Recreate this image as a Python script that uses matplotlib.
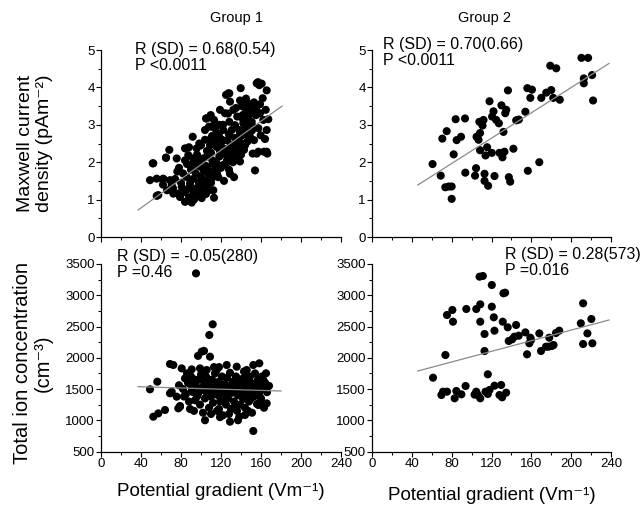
import matplotlib
matplotlib.use("Agg")
import matplotlib.pyplot as plt
from matplotlib.ticker import MultipleLocator

plt.rcParams['font.family'] = ['Liberation Sans', 'DejaVu Sans']
plt.rcParams['mathtext.default'] = 'regular'

# ---------------- data ----------------
# Group 1 : Maxwell current density vs potential gradient
g1_mc_x = [49, 52.3, 55.7, 57.3, 62.3, 65, 68.3, 69, 70.7, 72.3, 75.7, 76.3, 77.3, 79, 80.7, 84, 84, 85.7,
           87.3, 89, 90.7, 91.7, 92.3, 92.3, 95, 95.7, 97.3, 98.3, 99, 100.7, 102.3, 104, 105, 105.7, 106.3,
           107.3, 108.3, 109.7, 110.7, 111.3, 112.3, 113, 114, 115.7, 116.3, 117.3, 118.3, 119, 120.7, 121.7,
           122.3, 123, 124, 125, 125.7, 126.3, 127.3, 128.3, 129, 129, 129.7, 130.7, 131.7, 132.3, 133, 134,
           135, 135.7, 136.3, 137.3, 138.3, 139, 139.7, 140.7, 141.7, 142.3, 143, 144, 144, 145, 145.7, 146.3,
           147.3, 148.3, 149, 150.7, 151.7, 152.3, 153, 154, 155, 155.7, 157.3, 158.3, 159, 159.7, 160.7, 161.7,
           162.3, 163, 164, 164.7, 165.7, 165.7, 166.3, 167.3,
           95, 98, 100, 103, 105, 108, 110, 112, 115, 117, 119, 121, 124, 126, 128, 130, 132, 134, 136, 138,
           140, 142, 118, 114, 110, 106, 102, 98, 94, 90, 86, 82, 80, 88, 92, 96, 100, 104, 108, 112, 116, 120,
           124, 128, 132, 136, 140, 144, 148, 152, 146, 150, 127, 122, 118, 114, 111, 108, 104, 100, 96, 92, 88,
           84, 78, 74, 72, 66, 62, 84, 88, 93, 105, 113, 155.7, 157, 128.3, 65, 51.7, 61.7, 55.7, 105.7, 157.3,
           165.7, 101, 107, 113, 119, 125, 131, 137, 143, 97, 103, 109, 115, 121, 127, 133, 139,
           141, 145, 149, 153, 147, 151, 155, 159, 143, 139, 135]
g1_mc_y = [1.52, 1.97, 1.56, 1.12, 1.56, 2.12, 2.33, 1.52, 1.38, 1.16, 2.1, 1.75, 1.16, 1.07, 1.34, 2.37, 0.94,
           1.6, 2.19, 1.43, 0.92, 2.68, 1.97, 1.16, 1.69, 2.37, 1.25, 2.5, 1.88, 1.04, 1.52, 2.86, 3.17, 2.15,
           1.34, 1.78, 2.59, 3.26, 2.95, 2.05, 1.25, 3.13, 1.78, 2.41, 2.77, 1.6, 2.15, 3.4, 2.37, 1.92, 2.86,
           1.5, 3.31, 3.8, 2.19, 2.59, 3.84, 3.08, 3.62, 1.69, 2.46, 2.86, 2.1, 3.4, 1.6, 2.99, 2.44, 2.3, 3.22,
           2.64, 2.86, 2.02, 3.98, 2.5, 3.26, 3.04, 2.33, 3.31, 3.62, 2.91, 3.4, 2.55, 3.24, 3.51, 2.68, 3.08,
           2.23, 3.44, 2.59, 1.78, 3.26, 2.23, 2.91, 4.06, 3.31, 2.72, 4.1, 3.71, 3.13, 2.28, 2.62, 3.4, 3.92,
           2.86, 2.23, 3.15,
           1.3, 1.45, 1.6, 1.75, 1.9, 1.65, 1.45, 1.95, 2.0, 1.85, 2.3, 2.55, 2.35, 2.05, 2.75, 2.4, 2.2, 2.65,
           2.1, 2.35, 2.7, 3.15, 2.7, 2.55, 2.25, 2.3, 2.1, 2.0, 1.9, 1.8, 1.95, 1.7, 1.45, 1.3, 1.55, 1.15,
           1.3, 1.4, 1.25, 1.6, 1.7, 1.85, 1.95, 1.8, 2.0, 2.5, 2.2, 2.45, 2.8, 2.95, 3.1, 3.3, 3.3, 3.0, 3.0,
           2.9, 2.7, 2.95, 2.6, 2.45, 2.2, 2.1, 2.4, 2.05, 1.85, 1.55, 1.3, 1.25, 1.4, 1.2, 1.05, 1.0, 1.15,
           1.05, 4.11, 4.14, 3.84, 2.12, 1.97, 1.54, 1.1, 3.17, 2.28, 2.28, 1.35, 1.5, 1.72, 2.18, 1.95, 2.3,
           2.6, 2.75, 2.0, 1.2, 2.45, 1.9, 2.6, 2.2, 2.05, 2.8,
           3.5, 3.7, 3.55, 3.6, 3.0, 2.85, 3.45, 3.55, 2.75, 3.65, 3.45]

# Group 2 : Maxwell current density vs potential gradient
g2_mc_x = [60.8, 69, 70.6, 73.6, 75, 77, 80, 80, 82, 84, 85, 89.4, 93.4, 93.7, 103.5, 104.5, 105, 107,
           107.8, 108.5, 108.5, 111, 112, 113, 113, 114, 115.6, 116.6, 118, 120.3, 120.6, 122, 123, 124.7,
           127.4, 128, 130, 131, 132, 133, 133.8, 134.8, 136.5, 137.4, 138.8, 142, 144.8, 147.5, 154, 156,
           156.5, 159, 160.6, 168, 170, 175, 179, 180, 182, 185, 188.6, 210.3, 212.7, 212.7, 217, 221, 222]
g2_mc_y = [1.95, 1.64, 2.63, 1.33, 2.83, 1.35, 1.35, 1.02, 2.21, 3.15, 2.59, 2.68, 3.17, 1.72, 1.64, 1.84,
           2.68, 2.6, 3.08, 2.78, 2.32, 2.98, 3.13, 1.69, 1.5, 2.18, 2.4, 1.37, 3.63, 2.25, 3.22, 3.36, 1.63,
           3.13, 3.04, 2.25, 3.52, 2.13, 2.81, 2.28, 3.31, 3.4, 3.92, 1.6, 1.48, 2.36, 3.12, 3.14, 3.35, 3.98,
           1.77, 3.72, 3.94, 2.0, 3.72, 3.86, 4.58, 3.93, 3.72, 4.51, 3.67, 4.79, 4.11, 4.24, 4.79, 4.33, 3.65]

# Group 1 : total ion concentration vs potential gradient
g1_ion_x = [95, 111.7, 108.3, 100.7, 97, 103, 109, 56.3, 49, 52.3, 57.3, 64, 69, 72.3, 80.7, 79, 77.3,
            152.3, 129, 138.3, 144, 157.3, 165.7, 158.3, 165, 162.3, 152.3, 145.7, 135.7, 125.7, 115.7, 105.7,
            99, 90.7, 84, 69, 70.7, 75.7, 79,
            82, 85, 87, 88, 90, 92, 93, 95, 96, 98, 99, 100, 102, 103, 104, 105, 106, 107, 108, 109, 110, 111,
            112, 113, 114, 115, 116, 117, 118, 119, 120, 121, 122, 123, 124, 125, 126, 127, 128, 129, 130, 131,
            132, 133, 134, 135, 136, 137, 138, 139, 140, 141, 142, 143, 144, 145, 146, 147, 148, 149, 150, 151,
            152, 153, 154, 155, 156, 157, 158, 159, 160, 161, 162, 163, 164, 166, 168, 86, 90, 94, 97, 101, 104,
            110, 115, 119, 124, 128, 133, 137, 142, 147, 150, 154, 160, 78, 83, 89, 91, 113, 118, 122, 126, 131,
            134, 139, 143, 146, 150, 94, 100, 106, 112, 118]
g1_ion_y = [3350, 2535, 2364, 2097, 2030, 2110, 2017, 1617, 1495, 1057, 1110, 1164, 1900, 1884, 1830, 1228,
            1190, 828, 977, 1057, 1084, 1244, 1270, 1911, 1751, 1644, 1884, 1804, 1857, 1884, 1804, 1804, 1830,
            1814, 1670, 1431, 1457, 1377, 1217,
            1500, 1420, 1600, 1300, 1700, 1450, 1150, 1550, 1380, 1650, 1250, 1480, 1120, 1560, 1350, 1700, 1430,
            1600, 1200, 1520, 1380, 1650, 1280, 1470, 1750, 1560, 1150, 1400, 1620, 1300, 1500, 1700, 1080, 1420,
            1580, 1250, 1680, 1350, 1500, 1760, 1180, 1440, 1620, 1300, 1520, 1700, 1150, 1400, 1580, 1250, 1480,
            1660, 1340, 1780, 1200, 1530, 1420, 1620, 1300, 1700, 1480, 1120, 1580, 1380, 1750, 1500, 1260, 1650,
            1420, 1550, 1350, 1700, 1500, 1200, 1600, 1450, 1550, 1750, 1560, 1320, 1420, 1650, 1000, 1100, 1480,
            1050, 1350, 1100, 1450, 1000, 1580, 1150, 1350, 1420, 1280, 1560, 1380, 1180, 1480, 1850, 1850, 1560,
            1450, 1580, 1230, 1630, 1450, 1700, 1600, 1650, 1730, 1520, 1430, 1180]

# Group 2 : total ion concentration vs potential gradient
g2_ion_x = [61.3, 69.7, 71.3, 73.7, 75.3, 75.3, 80.7, 81.3, 83, 84.7, 89.7, 94, 94.7, 103, 104.7, 104.7,
            106.3, 108, 108.7, 108.7, 108.7, 111.3, 113, 113, 114, 116.3, 116.3, 118, 120.3, 120.3, 122.3, 123,
            123, 128, 129.7, 130.7, 131.3, 132, 133.7, 134.7, 136.3, 137.3, 140.7, 143, 144.7, 147.3, 154,
            155.7, 158, 159, 159.7, 168, 169.7, 174.7, 178, 177.3, 180.7, 182.3, 184.7, 188, 209.7, 212, 212,
            216.3, 220.3, 221.3]
g2_ion_y = [1681, 1404, 1457, 2044, 1457, 2684, 2764, 2577, 1351, 1468, 1415, 1548, 2780, 1410, 2780, 1457,
            1404, 3297, 2855, 2577, 1351, 3308, 2380, 2108, 1457, 1735, 1420, 1484, 2817, 3164, 2647, 2433, 1553,
            1404, 1564, 1367, 2577, 3031, 3041, 1441, 2487, 2268, 2295, 2337, 2524, 2353, 2406, 2055, 2231, 2321,
            2284, 2390, 2108, 2177, 2321, 2177, 2188, 2204, 2396, 2433, 2551, 2871, 2220, 2390, 2620, 2231]

# regression-line end points
fit_g1_mc_x, fit_g1_mc_y = [37, 181], [0.72, 3.5]
fit_g2_mc_x, fit_g2_mc_y = [46, 238], [1.39, 4.64]
fit_g1_ion_x, fit_g1_ion_y = [37, 180], [1537, 1468]
fit_g2_ion_x, fit_g2_ion_y = [46, 238], [1788, 2604]

stats = ["R (SD) = 0.68(0.54)\nP <0.0011", "R (SD) = 0.70(0.66)\nP <0.0011",
         "R (SD) = -0.05(280)\nP =0.46", "R (SD) = 0.28(573)\nP =0.016"]
groups = ["Group 1", "Group 2"]

# ---------------- figure ----------------
W, H = 640, 513
fig = plt.figure(figsize=(W / 100, H / 100), dpi=100)

def box(l, r, t, b):
    return [l / W, 1 - b / H, (r - l) / W, (b - t) / H]

ax_tl = fig.add_axes(box(101, 341, 50, 237))
ax_tr = fig.add_axes(box(372, 611, 50, 237))
ax_bl = fig.add_axes(box(101, 341, 264, 451.5))
ax_br = fig.add_axes(box(372, 611, 264, 451.5))

panels = [
    (ax_tl, g1_mc_x, g1_mc_y, fit_g1_mc_x, fit_g1_mc_y, stats[0], (0.14, 1.045)),
    (ax_tr, g2_mc_x, g2_mc_y, fit_g2_mc_x, fit_g2_mc_y, stats[1], (0.045, 1.07)),
    (ax_bl, g1_ion_x, g1_ion_y, fit_g1_ion_x, fit_g1_ion_y, stats[2], (0.065, 1.08)),
    (ax_br, g2_ion_x, g2_ion_y, fit_g2_ion_x, fit_g2_ion_y, stats[3], (0.555, 1.09)),
]

for i, (ax, x, y, fx, fy, txt, pos) in enumerate(panels):
    ax.scatter(x, y, s=34, color='black', edgecolors='none', zorder=3, clip_on=False)
    ax.plot(fx, fy, color='#8a8a8a', lw=0.9, zorder=4)
    ax.set_xlim(0, 240)
    ax.xaxis.set_major_locator(MultipleLocator(40))
    ax.xaxis.set_minor_locator(MultipleLocator(20))
    if i < 2:
        ax.set_ylim(0, 5)
        ax.yaxis.set_major_locator(MultipleLocator(1))
        ax.yaxis.set_minor_locator(MultipleLocator(0.5))
        ax.tick_params(axis='x', labelbottom=False)
    else:
        ax.set_ylim(500, 3500)
        ax.yaxis.set_major_locator(MultipleLocator(500))
        ax.yaxis.set_minor_locator(MultipleLocator(250))
    for s in ('top', 'right'):
        ax.spines[s].set_visible(False)
    for s in ('left', 'bottom'):
        ax.spines[s].set_linewidth(0.9)
    ax.tick_params(which='major', direction='out', length=3.5, width=0.8, labelsize=9.5, pad=1)
    ax.tick_params(which='minor', direction='out', length=2, width=0.7)
    ax.text(pos[0], pos[1], txt, transform=ax.transAxes, ha='left', va='top',
            fontsize=11.5, linespacing=1.1)

ax_tl.set_ylabel('Maxwell current\ndensity (pAm\u207b\u00b2)', fontsize=14, linespacing=1.15)
ax_tl.yaxis.set_label_coords(-0.2, 0.5)
ax_bl.set_ylabel('Total ion concentration\n(cm\u207b\u00b3)', fontsize=14.5, linespacing=1.15)
ax_bl.yaxis.set_label_coords(-0.2, 0.47)
ax_bl.set_xlabel('Potential gradient (Vm\u207b\u00b9)', fontsize=13.5, labelpad=9.5)
ax_br.set_xlabel('Potential gradient (Vm\u207b\u00b9)', fontsize=13.5, labelpad=12.5)

fig.text(236 / W, 1 - 18 / H, groups[0], ha='center', va='center', fontsize=10.5)
fig.text(485 / W, 1 - 18 / H, groups[1], ha='center', va='center', fontsize=10.5)

fig.savefig('out.png', dpi=100)
